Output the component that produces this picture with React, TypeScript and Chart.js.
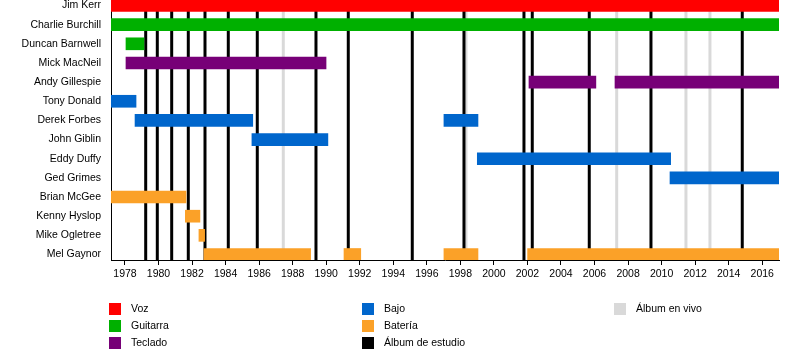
import React, { useEffect, useRef } from "react";
import { Chart, registerables } from "chart.js";

Chart.register(...registerables);

// ---- data ----
const members = [
  "Jim Kerr",
  "Charlie Burchill",
  "Duncan Barnwell",
  "Mick MacNeil",
  "Andy Gillespie",
  "Tony Donald",
  "Derek Forbes",
  "John Giblin",
  "Eddy Duffy",
  "Ged Grimes",
  "Brian McGee",
  "Kenny Hyslop",
  "Mike Ogletree",
  "Mel Gaynor",
];

const timelineStart = 1977.167;
const timelineEnd = 2017;

const yearTicks = [
  1978, 1980, 1982, 1984, 1986, 1988, 1990, 1992, 1994, 1996,
  1998, 2000, 2002, 2004, 2006, 2008, 2010, 2012, 2014, 2016,
];

type Span = [string, number, number];

const vozSpans: Span[] = [["Jim Kerr", 1977.167, 2017]];

const guitarraSpans: Span[] = [
  ["Charlie Burchill", 1977.167, 2017],
  ["Duncan Barnwell", 1978.06, 1979.13],
];

const tecladoSpans: Span[] = [
  ["Mick MacNeil", 1978.06, 1989.99],
  ["Andy Gillespie", 2002.09, 2006.08],
  ["Andy Gillespie", 2007.22, 2017],
];

const tecladoSecundarioSpans: Span[] = [["Charlie Burchill", 1989.93, 2017]];

const bajoSpans: Span[] = [
  ["Tony Donald", 1977.167, 1978.66],
  ["Derek Forbes", 1978.6, 1985.62],
  ["Derek Forbes", 1997.02, 1999.05],
  ["John Giblin", 1985.57, 1990.1],
  ["Eddy Duffy", 1999.01, 2010.54],
  ["Ged Grimes", 2010.5, 2017],
];

const bateriaSpans: Span[] = [
  ["Brian McGee", 1977.167, 1981.64],
  ["Kenny Hyslop", 1981.6, 1982.47],
  ["Mike Ogletree", 1982.41, 1982.75],
  ["Mel Gaynor", 1982.71, 1989.07],
  ["Mel Gaynor", 1991.06, 1992.06],
  ["Mel Gaynor", 1997.02, 1999.05],
  ["Mel Gaynor", 2002.01, 2017],
];

const studioAlbums = [
  1979.236, 1979.928, 1980.786, 1981.776, 1982.772, 1984.161, 1985.89,
  1989.39, 1991.316, 1995.132, 1998.215, 2001.792, 2002.287, 2005.686,
  2009.365, 2014.809,
];

const liveAlbums = [1987.441, 1998.334, 2007.321, 2011.452, 2012.883];

const legendLabels = [
  "Voz",
  "Guitarra",
  "Teclado",
  "Bajo",
  "Batería",
  "Álbum de estudio",
  "Álbum en vivo",
];

// ---- styles ----
const COLORS = {
  voz: "#ff0000",
  guitarra: "#00b000",
  teclado: "#770077",
  bajo: "#0066cc",
  bateria: "#fba128",
  estudio: "#000000",
  vivo: "#d9d9d9",
};
const legendColors = [
  COLORS.voz,
  COLORS.guitarra,
  COLORS.teclado,
  COLORS.bajo,
  COLORS.bateria,
  COLORS.estudio,
  COLORS.vivo,
];
const FONT_FAMILY = "'Liberation Sans', Arial, Helvetica, sans-serif";
const FONT_SIZE = 10.5;

const toData = (spans: Span[]) =>
  spans.map(([m, s, e]) => ({ x: [s, e], y: members.indexOf(m) }));

const albumLinesPlugin = {
  id: "albumLines",
  beforeDatasetsDraw(chart: any) {
    const { ctx, chartArea, scales } = chart;
    const xs = scales.x;
    ctx.save();
    ctx.lineWidth = 3;
    const draw = (years: number[], color: string) => {
      ctx.strokeStyle = color;
      years.forEach((yr) => {
        const px = xs.getPixelForValue(yr);
        ctx.beginPath();
        ctx.moveTo(px, chartArea.top);
        ctx.lineTo(px, chartArea.bottom);
        ctx.stroke();
      });
    };
    draw(liveAlbums, COLORS.vivo);
    draw(studioAlbums, COLORS.estudio);
    ctx.restore();
  },
};

const legendPlugin = {
  id: "customLegend",
  afterDraw(chart: any) {
    const { ctx } = chart;
    const colX = [109, 362, 614];
    const rowY = [309, 326, 343];
    const layout = [
      [0, 0],
      [0, 1],
      [0, 2],
      [1, 0],
      [1, 1],
      [1, 2],
      [2, 0],
    ];
    ctx.save();
    ctx.font = `${FONT_SIZE}px ${FONT_FAMILY}`;
    ctx.textBaseline = "middle";
    ctx.textAlign = "left";
    legendLabels.forEach((label, i) => {
      const [c, r] = layout[i];
      const x = colX[c];
      const y = rowY[r];
      ctx.fillStyle = legendColors[i];
      ctx.fillRect(x, y - 6, 12, 12);
      ctx.fillStyle = "#000";
      ctx.fillText(label, x + 22, y + 0.5);
    });
    ctx.restore();
  },
};

export default function App() {
  const ref = useRef<HTMLCanvasElement>(null);

  useEffect(() => {
    document.body.style.margin = "0";
    const font = { family: FONT_FAMILY, size: FONT_SIZE };
    const barCommon = {
      grouped: false,
      barThickness: 12,
      borderWidth: 0,
      borderSkipped: false,
    };
    const chart = new Chart(ref.current as HTMLCanvasElement, {
      type: "bar",
      data: {
        datasets: [
          { label: "Voz", data: toData(vozSpans), backgroundColor: COLORS.voz, ...barCommon },
          { label: "Guitarra", data: toData(guitarraSpans), backgroundColor: COLORS.guitarra, ...barCommon },
          { label: "Teclado", data: toData(tecladoSpans), backgroundColor: COLORS.teclado, ...barCommon },
          { label: "Bajo", data: toData(bajoSpans), backgroundColor: COLORS.bajo, ...barCommon },
          { label: "Batería", data: toData(bateriaSpans), backgroundColor: COLORS.bateria, ...barCommon },
          {
            label: "Teclado (2)",
            data: toData(tecladoSecundarioSpans),
            backgroundColor: COLORS.teclado,
            ...barCommon,
            barThickness: 4,
          },
        ] as any,
      },
      options: {
        indexAxis: "y",
        animation: false,
        responsive: false,
        devicePixelRatio: 1,
        layout: { padding: { top: 0, right: 21, left: 0, bottom: 0 } },
        plugins: {
          legend: { display: false },
          tooltip: { enabled: false },
        },
        scales: {
          x: {
            type: "linear",
            min: timelineStart,
            max: timelineEnd,
            bounds: "data",
            offset: false,
            afterBuildTicks: (s: any) => {
              s.ticks = yearTicks.map((v) => ({ value: v }));
            },
            afterFit: (s: any) => {
              s.height = 100;
              s.paddingLeft = 0;
              s.paddingRight = 0;
            },
            grid: {
              display: true,
              offset: false,
              drawOnChartArea: false,
              drawTicks: true,
              tickLength: 5,
              color: "#000",
              lineWidth: 1,
            },
            border: { display: true, color: "#000", width: 1 },
            ticks: {
              autoSkip: false,
              maxRotation: 0,
              padding: 3,
              color: "#000",
              font,
              callback: (v: any) => String(v),
            },
          },
          y: {
            type: "linear",
            reverse: true,
            min: -0.287,
            max: 13.287,
            bounds: "data",
            offset: false,
            afterBuildTicks: (s: any) => {
              s.ticks = members.map((_, i) => ({ value: i }));
            },
            afterFit: (s: any) => {
              s.width = 111;
              s.paddingTop = 0;
              s.paddingBottom = 0;
            },
            grid: { display: false, offset: false, drawTicks: false, tickLength: 0 },
            border: { display: true, color: "#000", width: 1 },
            ticks: {
              autoSkip: false,
              padding: 10,
              color: "#000",
              font,
              callback: (v: any) => members[v] ?? "",
            },
          },
        },
      } as any,
      plugins: [albumLinesPlugin, legendPlugin],
    });
    return () => chart.destroy();
  }, []);

  return (
    <div style={{ width: 800, height: 360 }}>
      <canvas ref={ref} width={800} height={360} style={{ display: "block" }} />
    </div>
  );
}
